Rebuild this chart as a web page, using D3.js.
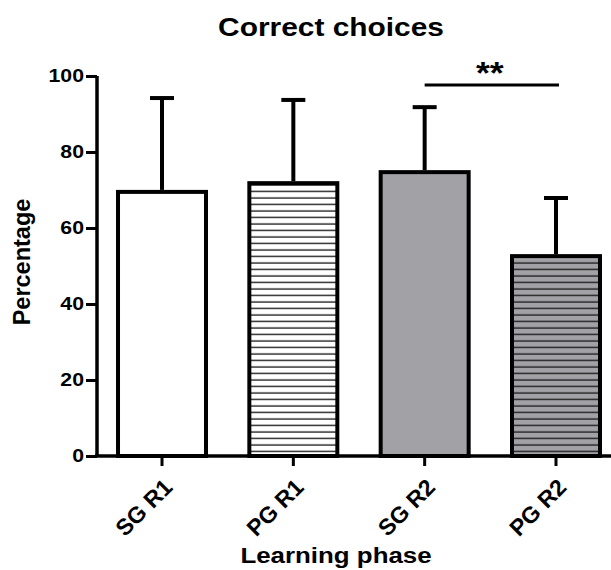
<!DOCTYPE html>
<html>
<head>
<meta charset="utf-8">
<script src="https://cdn.jsdelivr.net/npm/d3@7"></script>
<style>
  body { margin: 0; background: #fff; }
  text { font-family: "Liberation Sans", Arial, sans-serif; font-weight: bold; }
</style>
</head>
<body>
<div id="chart"></div>
<script>
// data
var phases = ["SG R1", "PG R1", "SG R2", "PG R2"]
var means = [69.5, 71.8, 74.7, 52.6]
var sdUpper = [94.2, 93.7, 91.8, 67.9]
var yTicks = [0, 20, 40, 60, 80, 100]
var fills = ["white", "hatch-white", "grey", "hatch-grey"]

var width = 611, height = 570
var sx = 1.15 // the original figure is a bit wider than tall

var svg = d3.select("#chart").append("svg")
    .attr("width", width)
    .attr("height", height)

var defs = svg.append("defs")
function hatch(id, bg) {
    var p = defs.append("pattern")
        .attr("id", id)
        .attr("patternUnits", "userSpaceOnUse")
        .attr("width", 10).attr("height", 6.5)
    p.append("rect").attr("width", 10).attr("height", 6.5).attr("fill", bg)
    p.append("line").attr("x1", 0).attr("x2", 10).attr("y1", 3).attr("y2", 3)
        .attr("stroke", "#222").attr("stroke-width", 1.4)
}
hatch("hatch-white", "white")
hatch("hatch-grey", "#a2a2a6")

function fillFor(f) {
    if (f === "white") return "white"
    if (f === "grey") return "#a2a2a6"
    return "url(#" + f + ")"
}

var y = d3.scaleLinear().domain([0, 100]).range([456, 76])
var x = d3.scaleBand().domain(phases).range([97, 621]).paddingInner(0.33).paddingOuter(0.16)

var g = svg.append("g")

// bars
g.selectAll("rect.bar")
    .data(phases)
    .enter().append("rect")
    .attr("class", "bar")
    .attr("x", function(d) { return x(d) })
    .attr("width", x.bandwidth())
    .attr("y", function(d, i) { return y(means[i]) })
    .attr("height", function(d, i) { return y(0) - y(means[i]) })
    .attr("fill", function(d, i) { return fillFor(fills[i]) })
    .attr("stroke", "black")
    .attr("stroke-width", 4)

// error bars (upper only)
var cap = 24
g.selectAll("line.err")
    .data(phases)
    .enter().append("line")
    .attr("x1", function(d) { return x(d) + x.bandwidth() / 2 })
    .attr("x2", function(d) { return x(d) + x.bandwidth() / 2 })
    .attr("y1", function(d, i) { return y(means[i]) - 2 })
    .attr("y2", function(d, i) { return y(sdUpper[i]) })
    .attr("stroke", "black").attr("stroke-width", 4)
g.selectAll("line.cap")
    .data(phases)
    .enter().append("line")
    .attr("x1", function(d) { return x(d) + x.bandwidth() / 2 - cap / 2 })
    .attr("x2", function(d) { return x(d) + x.bandwidth() / 2 + cap / 2 })
    .attr("y1", function(d, i) { return y(sdUpper[i]) })
    .attr("y2", function(d, i) { return y(sdUpper[i]) })
    .attr("stroke", "black").attr("stroke-width", 4)

// y axis
var yAxis = svg.append("g")
    .attr("transform", "translate(97,0)")
    .call(d3.axisLeft(y).tickValues(yTicks).tickSize(11).tickPadding(0))
yAxis.select(".domain").attr("stroke-width", 3.5).attr("d", "M0," + y(100) + "V" + y(0))
yAxis.selectAll(".tick line").attr("stroke-width", 3)
yAxis.selectAll(".tick text")
    .style("font-size", "18.5px").attr("fill", "black")
    .attr("x", null)
    .attr("transform", "translate(-13,0) scale(" + sx + ",1)")

// x axis
var xAxis = svg.append("g")
    .attr("transform", "translate(0,456)")
    .call(d3.axisBottom(x).tickSize(10).tickPadding(0))
xAxis.select(".domain").attr("stroke-width", 3.5).attr("d", "M95,0H611")
xAxis.selectAll(".tick line").attr("stroke-width", 3)
xAxis.selectAll(".tick text")
    .style("font-size", "23px").attr("fill", "black")
    .attr("text-anchor", "end")
    .attr("dy", "0.35em")
    .attr("transform", "translate(-1,20) rotate(-45)")

// significance bar
var sig = [x("SG R2") + x.bandwidth() / 2, x("PG R2") + x.bandwidth() / 2 + 3]
svg.append("line")
    .attr("x1", sig[0]).attr("x2", sig[1])
    .attr("y1", y(97.6)).attr("y2", y(97.6))
    .attr("stroke", "black").attr("stroke-width", 3)
svg.append("text")
    .attr("transform", "translate(" + ((sig[0] + sig[1]) / 2 - 2) + ",84) scale(" + sx + ",1)")
    .attr("text-anchor", "middle")
    .style("font-size", "31px")
    .text("**")

// titles
svg.append("text")
    .attr("transform", "translate(331,36) scale(" + sx + ",1)")
    .attr("text-anchor", "middle")
    .style("font-size", "26px")
    .text("Correct choices")
svg.append("text")
    .attr("transform", "translate(30,262) rotate(-90)")
    .attr("text-anchor", "middle")
    .style("font-size", "23.5px")
    .text("Percentage")
svg.append("text")
    .attr("transform", "translate(336,563) scale(" + sx + ",1)")
    .attr("text-anchor", "middle")
    .style("font-size", "22.5px")
    .text("Learning phase")
</script>
</body>
</html>
